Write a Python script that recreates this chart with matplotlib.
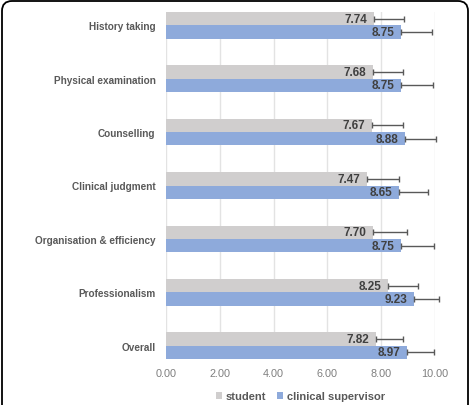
import matplotlib.pyplot as plt
from matplotlib.patches import FancyBboxPatch
import numpy as np

plt.rcParams['font.family'] = ['Liberation Sans', 'DejaVu Sans']

categories = ['History taking', 'Physical examination', 'Counselling',
              'Clinical judgment', 'Organisation & efficiency',
              'Professionalism', 'Overall']
student = [7.74, 7.68, 7.67, 7.47, 7.70, 8.25, 7.82]
supervisor = [8.75, 8.75, 8.88, 8.65, 8.75, 9.23, 8.97]
student_err = [1.11, 1.13, 1.14, 1.19, 1.26, 1.12, 0.99]
supervisor_err = [1.14, 1.18, 1.16, 1.09, 1.21, 0.92, 0.99]
xticks = [0, 2, 4, 6, 8, 10]

gray = '#d0cece'
blue = '#8eaadb'

fig = plt.figure(figsize=(4.71, 4.06), dpi=100)
ax = fig.add_axes([166 / 471, 1 - 360 / 406, 269 / 471, 347 / 406])

y = np.arange(len(categories))
h = 0.25
err_kw = dict(ecolor='#595959', elinewidth=1.0, capsize=2.5, capthick=1.0)
b1 = ax.barh(y - h / 2, student, height=h, color=gray, xerr=[[0] * 7, student_err],
             error_kw=err_kw, label='student', zorder=2)
b2 = ax.barh(y + h / 2, supervisor, height=h, color=blue, xerr=[[0] * 7, supervisor_err],
             error_kw=err_kw, label='clinical supervisor', zorder=2)

# let the error bars run past 10.00 like in the original
for bc in (b1, b2):
    for part in bc.errorbar.lines:
        if part is None:
            continue
        if isinstance(part, tuple):
            for p in part:
                p.set_clip_on(False)
        else:
            part.set_clip_on(False)

for yi, v in zip(y, student):
    ax.text(v - 0.25, yi - h / 2, '%.2f' % v, ha='right', va='center',
            fontsize=8.5, fontweight='bold', color='#404040', zorder=3)
for yi, v in zip(y, supervisor):
    ax.text(v - 0.25, yi + h / 2, '%.2f' % v, ha='right', va='center',
            fontsize=8.5, fontweight='bold', color='#404040', zorder=3)

ax.set_ylim(len(categories) - 0.75, -0.25)
ax.set_xlim(0, 10)
ax.set_yticks(y)
ax.set_yticklabels(categories, fontsize=7.2, fontweight='bold', color='#595959')
ax.set_xticks(xticks)
ax.set_xticklabels(['%.2f' % t for t in xticks], fontsize=7.8, color='#7f7f7f')
ax.tick_params(length=0, axis='both')
ax.tick_params(axis='x', pad=6.5)
ax.tick_params(axis='y', pad=7.5)
ax.grid(axis='x', color='#e3e3e3', linewidth=1.0, zorder=0)
for s in ax.spines.values():
    s.set_visible(False)

leg = ax.legend(loc='center', bbox_to_anchor=(0.5, -0.107), ncol=2,
                frameon=False, fontsize=8, handlelength=0.55, handleheight=0.55,
                handletextpad=0.3, columnspacing=1.0)
for t in leg.get_texts():
    t.set_color('#595959')
    t.set_fontweight('bold')

border = FancyBboxPatch((0.02, -0.3), 4.66, 4.04 + 0.3,
                        boxstyle='round,pad=0,rounding_size=0.1',
                        transform=fig.dpi_scale_trans, fill=False,
                        edgecolor='black', linewidth=1.3, clip_on=False)
fig.patches.append(border)

fig.savefig('out.png', dpi=100)
